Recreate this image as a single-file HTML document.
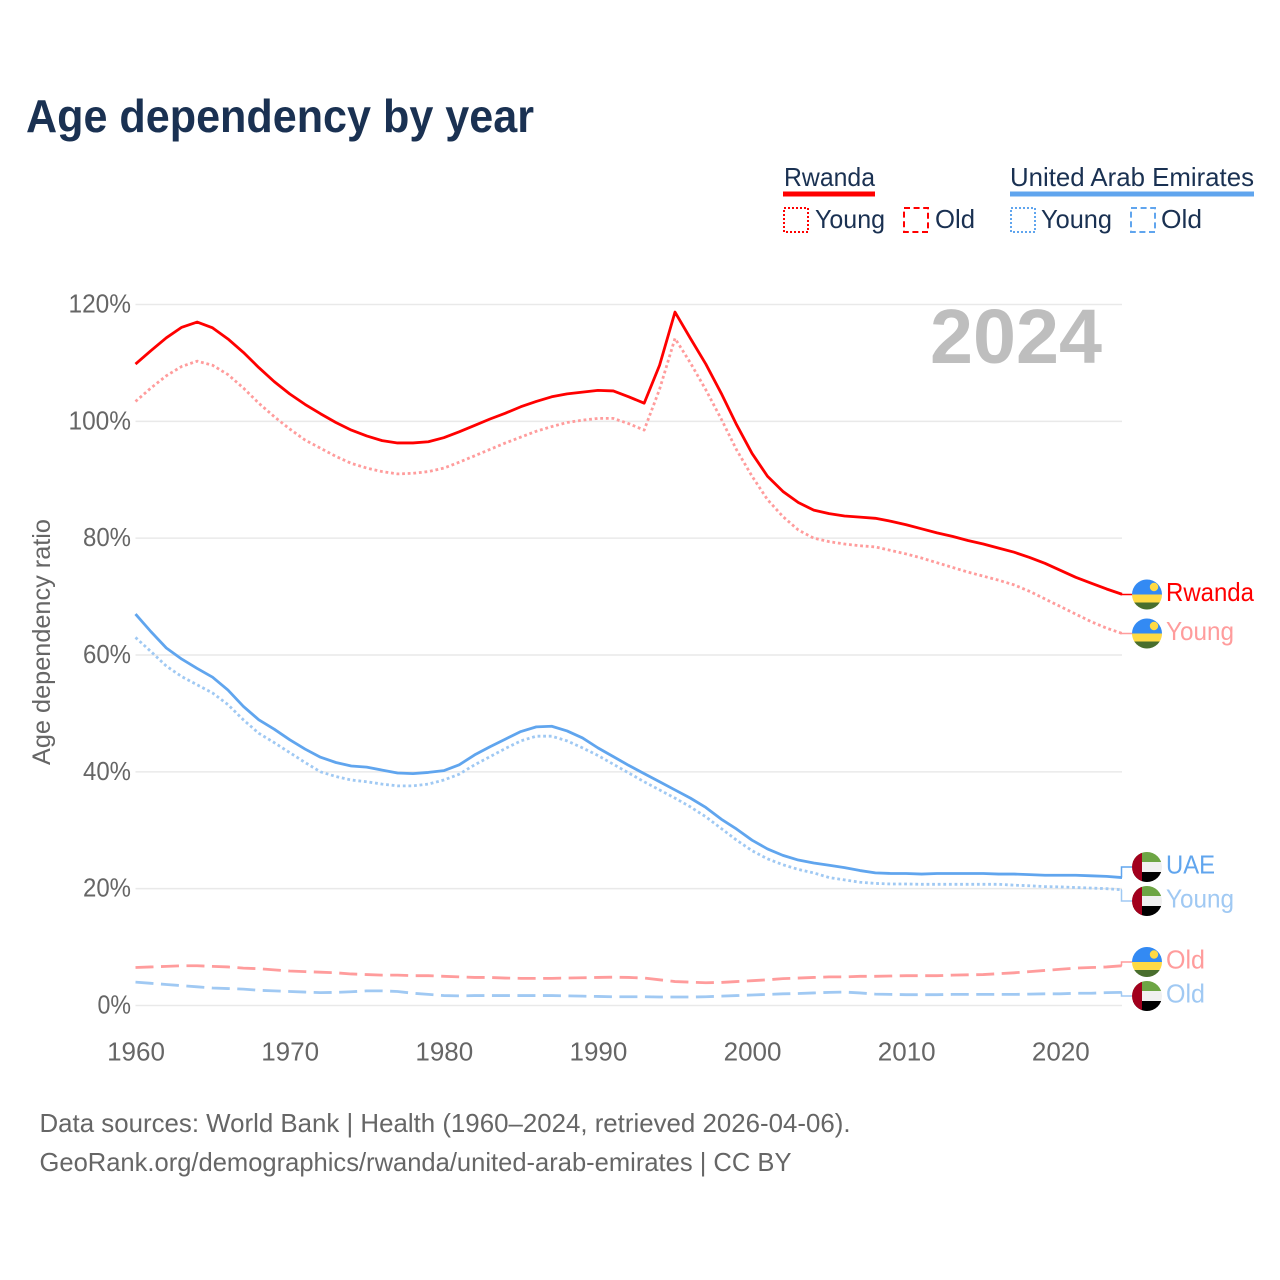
<!DOCTYPE html>
<html lang="en">
<head>
<meta charset="utf-8">
<title>Age dependency by year</title>
<style>
html,body{margin:0;padding:0;background:#fff;width:1280px;height:1280px;overflow:hidden}
svg{display:block}
text{font-family:"Liberation Sans",sans-serif}
</style>
</head>
<body>
<svg id="chart" xmlns="http://www.w3.org/2000/svg" width="1280" height="1280" viewBox="0 0 1280 1280">
  <defs>
    <clipPath id="flag-clip"><circle cx="0" cy="0" r="15"/></clipPath>
  </defs>
  <rect width="1280" height="1280" fill="#fff"/>
  <text x="26" y="132" font-size="46" font-weight="700" fill="#1a3152" textLength="508" lengthAdjust="spacingAndGlyphs">Age dependency by year</text>

  <g font-size="26" fill="#1a3152">
    <text x="784" y="186" textLength="91" lengthAdjust="spacingAndGlyphs">Rwanda</text>
    <rect x="783" y="191.5" width="92" height="5" fill="#ff0000"/>
    <rect x="784" y="208" width="24" height="24" fill="none" stroke="#ff0000" stroke-width="2" stroke-dasharray="2 2"/>
    <text x="815" y="228" textLength="70" lengthAdjust="spacingAndGlyphs">Young</text>
    <rect x="904" y="208" width="24" height="24" fill="none" stroke="#ff0000" stroke-width="2" stroke-dasharray="6 3.6"/>
    <text x="935" y="228" textLength="40" lengthAdjust="spacingAndGlyphs">Old</text>
    <text x="1010" y="186" textLength="244" lengthAdjust="spacingAndGlyphs">United Arab Emirates</text>
    <rect x="1010" y="191.5" width="244" height="5" fill="#60a5ee"/>
    <rect x="1011" y="208" width="24" height="24" fill="none" stroke="#60a5ee" stroke-width="2" stroke-dasharray="2 2"/>
    <text x="1041" y="228" textLength="71" lengthAdjust="spacingAndGlyphs">Young</text>
    <rect x="1131" y="208" width="24" height="24" fill="none" stroke="#60a5ee" stroke-width="2" stroke-dasharray="6 3.6"/>
    <text x="1161" y="228" textLength="41" lengthAdjust="spacingAndGlyphs">Old</text>
  </g>

  <g id="grid"></g>
  <text x="930" y="363" font-size="77" font-weight="700" fill="#bebebe" textLength="172" lengthAdjust="spacingAndGlyphs">2024</text>
  <g id="yticks" font-size="26" fill="#666"></g>
  <g id="xticks" font-size="26" fill="#666"></g>
  <text transform="translate(50,642) rotate(-90)" text-anchor="middle" font-size="25" fill="#666" textLength="246" lengthAdjust="spacingAndGlyphs">Age dependency ratio</text>
  <g id="series"></g>
  <g id="ends"></g>

  <text x="39.5" y="1132" font-size="26" fill="#666" textLength="811" lengthAdjust="spacingAndGlyphs">Data sources: World Bank | Health (1960–2024, retrieved 2026-04-06).</text>
  <text x="39.5" y="1171" font-size="26" fill="#666" textLength="752" lengthAdjust="spacingAndGlyphs">GeoRank.org/demographics/rwanda/united-arab-emirates | CC BY</text>
</svg>
<script>
const startYear = 1960;
const endYear = 2024;
const yTickValues = [0, 20, 40, 60, 80, 100, 120];
const xTickYears = [1960, 1970, 1980, 1990, 2000, 2010, 2020];

const rwandaTotal = [109.8,112.1,114.3,116.1,117,116,114.1,111.8,109.2,106.8,104.7,102.9,101.3,99.8,98.5,97.5,96.7,96.3,96.3,96.5,97.2,98.2,99.3,100.4,101.4,102.5,103.4,104.2,104.7,105,105.3,105.2,104.2,103.1,109.6,118.7,114.2,109.8,104.8,99.4,94.5,90.6,88,86.1,84.8,84.2,83.8,83.6,83.4,82.9,82.3,81.6,80.9,80.3,79.6,79,78.3,77.6,76.7,75.7,74.5,73.3,72.3,71.3,70.4];
const rwandaYoung = [103.4,105.7,107.8,109.4,110.3,109.6,108,105.7,103.1,100.8,98.7,96.8,95.4,94,92.8,92,91.4,91,91.1,91.4,92,93,94.1,95.2,96.3,97.3,98.3,99.1,99.8,100.2,100.5,100.5,99.6,98.5,105.5,114.2,110,105.4,100.4,95.1,90.6,86.6,83.7,81.4,80,79.4,79,78.7,78.5,77.9,77.3,76.6,75.8,75,74.2,73.5,72.8,72,70.9,69.6,68.3,67,65.7,64.6,63.7];
const rwandaOld = [6.5,6.6,6.7,6.8,6.8,6.7,6.6,6.4,6.3,6.1,5.9,5.8,5.7,5.6,5.4,5.3,5.2,5.2,5.1,5.1,5,4.9,4.8,4.8,4.7,4.65,4.65,4.65,4.7,4.75,4.8,4.85,4.8,4.7,4.4,4.1,4,3.9,3.95,4.1,4.25,4.4,4.6,4.7,4.8,4.9,4.9,5,5,5.05,5.1,5.1,5.1,5.2,5.25,5.3,5.45,5.6,5.8,6,6.2,6.4,6.5,6.6,6.8];
const uaeTotal = [67,64,61.2,59.3,57.7,56.2,54,51.2,48.9,47.3,45.5,43.9,42.5,41.6,41,40.8,40.3,39.8,39.7,39.9,40.2,41.2,42.9,44.3,45.6,46.9,47.7,47.8,47,45.8,44.1,42.6,41.1,39.7,38.3,36.9,35.5,33.9,31.9,30.2,28.3,26.8,25.7,24.9,24.4,24,23.6,23.1,22.7,22.6,22.6,22.5,22.6,22.6,22.6,22.6,22.5,22.5,22.4,22.3,22.3,22.3,22.2,22.1,21.9];
const uaeYoung = [63,60.6,58.1,56.3,54.9,53.5,51.5,48.9,46.6,45,43.3,41.6,40,39.2,38.6,38.3,37.9,37.6,37.6,37.9,38.6,39.6,41.2,42.6,44,45.3,46.1,46.1,45.3,44.1,42.8,41.3,39.8,38.3,36.9,35.5,34,32.3,30.3,28.3,26.5,25.1,24.1,23.3,22.7,21.9,21.5,21.1,20.9,20.8,20.8,20.75,20.75,20.75,20.75,20.75,20.75,20.6,20.5,20.35,20.3,20.2,20.1,20,19.8];
const uaeOld = [4,3.8,3.6,3.4,3.2,3,2.9,2.8,2.6,2.5,2.4,2.3,2.2,2.25,2.35,2.5,2.5,2.4,2.1,1.9,1.7,1.65,1.7,1.7,1.7,1.7,1.7,1.7,1.65,1.6,1.55,1.5,1.5,1.5,1.45,1.45,1.45,1.5,1.6,1.7,1.8,1.9,2,2.05,2.15,2.25,2.3,2.15,1.95,1.9,1.85,1.85,1.85,1.9,1.9,1.9,1.9,1.9,1.95,2,2,2.1,2.1,2.2,2.25];

const SVG_NS = 'http://www.w3.org/2000/svg';
const plotLeft = 135.5, plotRight = 1122, plotBottom = 1005.5, plotTop = 304.5, yMax = 120;
const RED = '#ff0000', BLUE = '#60a5ee', LIGHT_RED = '#ff9c9c', LIGHT_BLUE = '#a0c9f3';

function xScale(year) { return plotLeft + (year - startYear) / (endYear - startYear) * (plotRight - plotLeft); }
function yScale(value) { return plotBottom - value / yMax * (plotBottom - plotTop); }
function make(tag, attrs, parent) {
  const el = document.createElementNS(SVG_NS, tag);
  for (const k in attrs) el.setAttribute(k, attrs[k]);
  parent.appendChild(el);
  return el;
}

const gridG = document.getElementById('grid');
const yG = document.getElementById('yticks');
yTickValues.forEach(function (v) {
  const line = make('line', { x1: plotLeft, x2: plotRight, y1: yScale(v), y2: yScale(v), stroke: '#e9e9e9', 'stroke-width': 1.5 }, gridG);
  
  
  const label = String(v) + '%';
  const t = make('text', { x: 131, y: yScale(v) + 8, 'text-anchor': 'end', textLength: String(v).length * 14.5 + 19, lengthAdjust: 'spacingAndGlyphs' }, yG);
  
  
  t.textContent = label;
});

const xG = document.getElementById('xticks');
xTickYears.forEach(function (yr) {
  const t = make('text', { x: xScale(yr) + 0.5, y: 1060.5, 'text-anchor': 'middle' }, xG);
  
  
  t.textContent = String(yr);
});

function pathFor(values) {
  return values.map(function (v, i) {
    return (i ? 'L' : 'M') + xScale(startYear + i).toFixed(2) + ' ' + yScale(v).toFixed(2);
  }).join(' ');
}
const seriesG = document.getElementById('series');
const endsG = document.getElementById('ends');

function drawSeries(values, color, dash, width) {
  const p = make('path', { d: pathFor(values), fill: 'none', stroke: color, 'stroke-width': width, 'stroke-linejoin': 'round' }, seriesG);
  if (dash) p.setAttribute('stroke-dasharray', dash);
  return p;
}
const uaeOldLine = drawSeries(uaeOld, LIGHT_BLUE, '18 7.5', 2.8);


const rwandaOldLine = drawSeries(rwandaOld, LIGHT_RED, '18 7.5', 2.8);


const uaeYoungLine = drawSeries(uaeYoung, LIGHT_BLUE, '2.8 2.8', 2.8);


const rwandaYoungLine = drawSeries(rwandaYoung, LIGHT_RED, '2.8 2.8', 2.8);


const uaeTotalLine = drawSeries(uaeTotal, BLUE, '', 2.8);


const rwandaTotalLine = drawSeries(rwandaTotal, RED, '', 2.8);



function flagRwanda(g) {
  make('rect', { x: -15, y: -15, width: 30, height: 15.5, fill: '#338af3' }, g);
  make('rect', { x: -15, y: 0, width: 30, height: 8, fill: '#ffda44' }, g);
  make('rect', { x: -15, y: 8, width: 30, height: 7, fill: '#496e2d' }, g);
  make('circle', { cx: 7, cy: -7.5, r: 4.2, fill: '#ffda44' }, g);
}
function flagUae(g) {
  make('rect', { x: -15, y: -15, width: 30, height: 10, fill: '#6da544' }, g);
  make('rect', { x: -15, y: -5, width: 30, height: 10, fill: '#f0f0f0' }, g);
  make('rect', { x: -15, y: 5, width: 30, height: 10, fill: '#000000' }, g);
  make('rect', { x: -15, y: -15, width: 10, height: 30, fill: '#a2001d' }, g);
}
function drawEnd(endValue, flagY, color, text, width, drawFlag) {
  const group = make('g', {}, endsG);
  const y = yScale(endValue);
  make('path', { d: 'M' + plotRight + ' ' + y.toFixed(2) + ' H' + (plotRight - 0.5) + ' V' + flagY + ' H1133', fill: 'none', stroke: color, 'stroke-width': 1.5 }, group);
  const f = make('g', { transform: 'translate(1147,' + flagY + ')', 'clip-path': 'url(#flag-clip)' }, group);
  drawFlag(f);
  const t = make('text', { x: 1166, y: flagY + 6.5, 'font-size': 26, fill: color, textLength: width, lengthAdjust: 'spacingAndGlyphs' }, group);
  t.textContent = text;
  return group;
}
const endRwanda = drawEnd(rwandaTotal[rwandaTotal.length - 1], 594.5, RED, 'Rwanda', 88, flagRwanda);


const endRwandaYoung = drawEnd(rwandaYoung[rwandaYoung.length - 1], 633.5, LIGHT_RED, 'Young', 68, flagRwanda);


const endUae = drawEnd(uaeTotal[uaeTotal.length - 1], 867, BLUE, 'UAE', 49, flagUae);


const endUaeYoung = drawEnd(uaeYoung[uaeYoung.length - 1], 901, LIGHT_BLUE, 'Young', 68, flagUae);


const endRwandaOld = drawEnd(rwandaOld[rwandaOld.length - 1], 962, LIGHT_RED, 'Old', 39, flagRwanda);


const endUaeOld = drawEnd(uaeOld[uaeOld.length - 1], 996, LIGHT_BLUE, 'Old', 39, flagUae);


</script>
</body>
</html>
